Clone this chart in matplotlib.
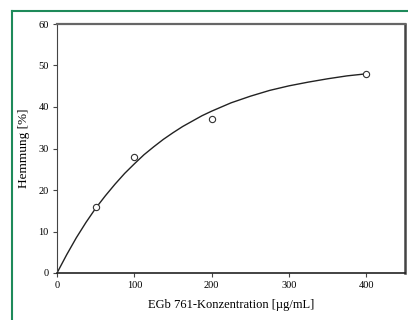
import matplotlib
matplotlib.use('Agg')
import matplotlib.pyplot as plt
from matplotlib.lines import Line2D

# measured points
conc = [50, 100, 200, 400]
hemmung = [16, 28, 37, 48]

# fitted curve
curve_x = [0, 12.5, 25, 37.5, 50, 62.5, 75, 87.5, 100, 112.5, 125, 137.5, 150,
           162.5, 175, 187.5, 200, 225, 250, 275, 300, 325, 350, 375, 400]
curve_y = [0, 4.4, 8.5, 12.2, 15.6, 18.6, 21.4, 24.0, 26.3, 28.5, 30.4, 32.2, 33.8,
           35.3, 36.6, 37.9, 39.0, 41.0, 42.6, 44.0, 45.1, 46.0, 46.8, 47.5, 48.0]

xticks = [0, 100, 200, 300, 400]
yticks = [0, 10, 20, 30, 40, 50, 60]

plt.rcParams['font.family'] = 'Liberation Serif'

fig = plt.figure(figsize=(4.08, 3.20), dpi=100)
ax = fig.add_axes([57/408, 47/320, 348/408, 249/320])

ax.plot(curve_x, curve_y, color='#222222', lw=1.0)
ax.plot(conc, hemmung, 'o', mfc='white', mec='#333333', ms=4.5, mew=0.8)

ax.set_xlim(0, 450)
ax.set_ylim(0, 60)
ax.set_xticks(xticks)
ax.set_yticks(yticks)
ax.tick_params(labelsize=7.5, length=3, width=0.8, color='#444444', pad=3)
ax.set_xlabel('EGb 761-Konzentration [µg/mL]', fontsize=9, labelpad=6)
ax.set_ylabel('Hemmung [%]', fontsize=9.5, labelpad=6)

ax.spines['left'].set_color('#444444')
ax.spines['left'].set_linewidth(0.8)
ax.spines['bottom'].set_color('#222222')
ax.spines['bottom'].set_linewidth(1.2)
ax.spines['top'].set_color('#666666')
ax.spines['top'].set_linewidth(1.6)
ax.spines['right'].set_color('#444444')
ax.spines['right'].set_linewidth(1.8)

# green frame on left and top
fig.add_artist(Line2D([12/408, 12/408], [0, 1 - 11/320], transform=fig.transFigure, color='#1e8a5a', lw=1.5))
fig.add_artist(Line2D([12/408, 1], [1 - 11/320, 1 - 11/320], transform=fig.transFigure, color='#1e8a5a', lw=1.5))

fig.savefig('out.png', dpi=100)
